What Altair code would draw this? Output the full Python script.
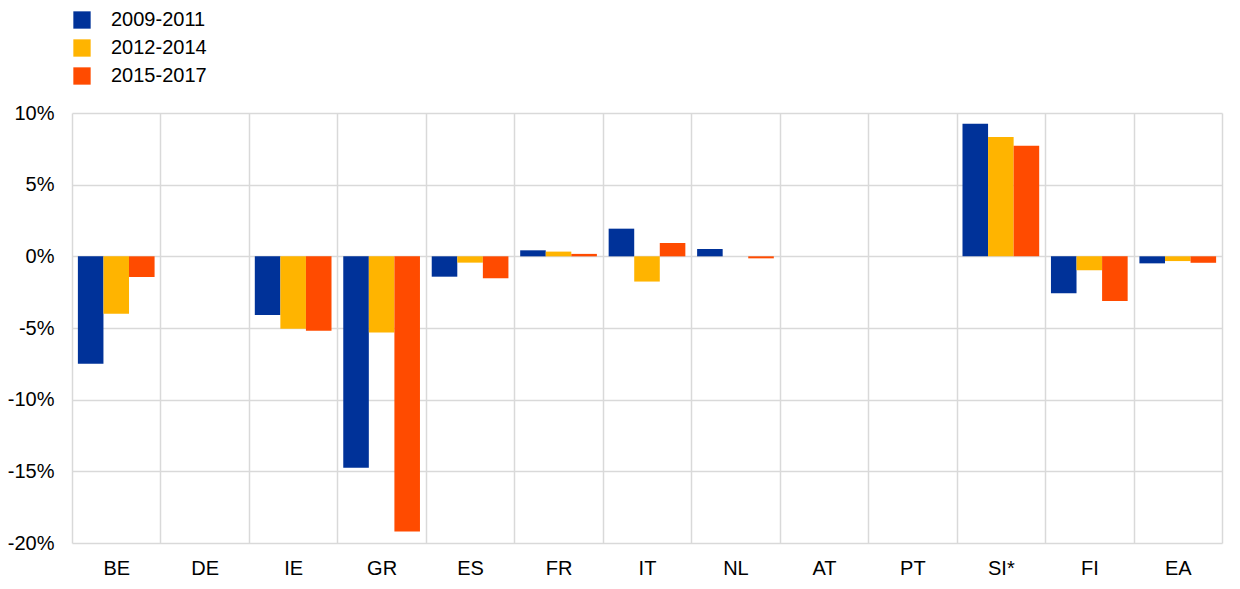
import altair as alt
import pandas as pd

categories = ["BE", "DE", "IE", "GR", "ES", "FR", "IT", "NL", "AT", "PT", "SI*", "FI", "EA"]
series_names = ["2009-2011", "2012-2014", "2015-2017"]
s2009_2011 = [-7.5, None, -4.1, -14.75, -1.42, 0.42, 1.93, 0.51, None, None, 9.25, -2.58, -0.49]
s2012_2014 = [-4.0, None, -5.05, -5.32, -0.44, 0.33, -1.76, 0.0, None, None, 8.33, -0.97, -0.33]
s2015_2017 = [-1.44, None, -5.2, -19.2, -1.53, 0.17, 0.93, -0.14, None, None, 7.72, -3.11, -0.45]
colors = ["#003299", "#FFB400", "#FF4B00"]
y_ticks = [-20, -15, -10, -5, 0, 5, 10]

rows = []
for name, vals in zip(series_names, [s2009_2011, s2012_2014, s2015_2017]):
    for c, v in zip(categories, vals):
        if v is not None:
            rows.append({"country": c, "period": name, "value": v})
df = pd.DataFrame(rows)

FONT = "Liberation Sans"
FS = 20

chart = alt.Chart(df).mark_bar().encode(
    x=alt.X("country:N",
            scale=alt.Scale(domain=categories, paddingInner=0, paddingOuter=0),
            axis=alt.Axis(title=None, labelAngle=0, tickBand="extent", grid=True,
                          gridColor="#d9d9d9", gridWidth=1.5, domain=False, ticks=False,
                          labelPadding=15, labelFontSize=FS, labelFont=FONT,
                          labelColor="#000000")),
    xOffset=alt.XOffset("period:N",
                        scale=alt.Scale(domain=series_names, paddingInner=0, paddingOuter=0.23)),
    y=alt.Y("value:Q",
            scale=alt.Scale(domain=[-20, 10], nice=False, zero=False),
            axis=alt.Axis(title=None, values=y_ticks, labelExpr="datum.value + '%'",
                          grid=True, gridColor="#d9d9d9", gridWidth=1.5, domain=False,
                          ticks=False, labelPadding=18, labelFontSize=FS, labelFont=FONT,
                          labelColor="#000000")),
    color=alt.Color("period:N",
                    scale=alt.Scale(domain=series_names, range=colors),
                    legend=alt.Legend(title=None, orient="none", legendX=0, legendY=-103,
                                      symbolType="square", symbolSize=300,
                                      symbolStrokeWidth=0, symbolOpacity=1,
                                      labelFontSize=FS, labelFont=FONT, labelColor="#000000",
                                      labelOffset=19, rowPadding=8, padding=0)),
).properties(
    width=1150,
    height=430,
    padding={"left": 64, "top": 105, "right": 10, "bottom": 36},
    autosize="none",
).configure_view(stroke=None)

chart.save("out.html", embed_options={"renderer": "svg", "actions": False})
